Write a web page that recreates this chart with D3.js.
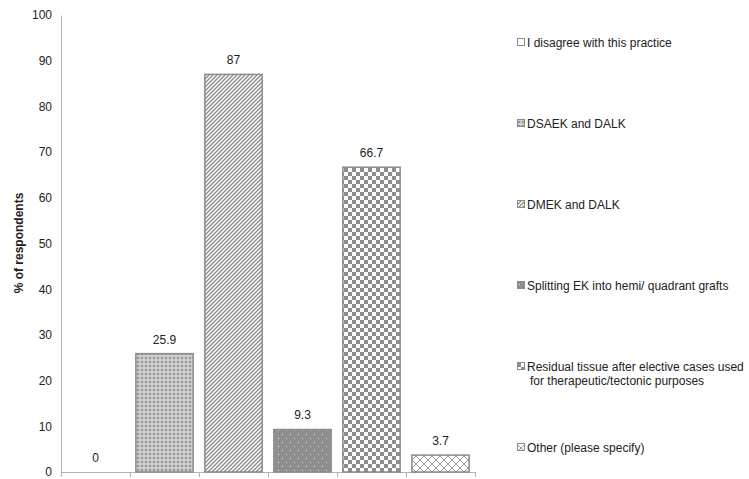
<!DOCTYPE html>
<html>
<head>
<meta charset="utf-8">
<script src="https://cdn.jsdelivr.net/npm/d3@7"></script>
<style>
body{margin:0;background:#fff}
text{font-family:Arial,"Liberation Sans",sans-serif}
</style>
</head>
<body>
<div id="canvas"></div>
<script>
"use strict"

let categories=["I disagree with this practice","DSAEK and DALK","DMEK and DALK","Splitting EK into hemi/ quadrant grafts","Residual tissue after elective cases used for therapeutic/tectonic purposes","Other (please specify)"]
let legendLines=[["I disagree with this practice"],["DSAEK and DALK"],["DMEK and DALK"],["Splitting EK into hemi/ quadrant grafts"],["Residual tissue after elective cases used","for therapeutic/tectonic purposes"],["Other (please specify)"]]
let values=[0,25.9,87,9.3,66.7,3.7]
let valueLabels=["0","25.9","87","9.3","66.7","3.7"]
let yTicks=[0,10,20,30,40,50,60,70,80,90,100]
let patternIds=["pWhite","pSmallDiamond","pStripes","pDots","pChecker","pBigDiamond"]

let svgWidth=749
let svgHeight=479
let fontFam="Arial, Liberation Sans, sans-serif"

let drawing=d3.select("#canvas")
    .append("svg")
    .attr("width",svgWidth)
    .attr("height",svgHeight)

let defs=drawing.append("defs")

// patterns
let pWhite=defs.append("pattern").attr("id","pWhite").attr("patternUnits","userSpaceOnUse").attr("width",4).attr("height",4)
pWhite.append("rect").attr("width",4).attr("height",4).attr("fill","white")

let pSmall=defs.append("pattern").attr("id","pSmallDiamond").attr("patternUnits","userSpaceOnUse").attr("width",4).attr("height",4)
pSmall.append("rect").attr("width",4).attr("height",4).attr("fill","#c8c8c8")
pSmall.append("circle").attr("cx",2).attr("cy",2).attr("r",1.1).attr("fill","#8c8c8c")
pSmall.append("circle").attr("cx",0).attr("cy",0).attr("r",0.7).attr("fill","#eeeeee")
pSmall.append("circle").attr("cx",4).attr("cy",4).attr("r",0.7).attr("fill","#eeeeee")

let pStripes=defs.append("pattern").attr("id","pStripes").attr("patternUnits","userSpaceOnUse").attr("width",4).attr("height",4)
pStripes.append("rect").attr("width",4).attr("height",4).attr("fill","white")
pStripes.append("path").attr("d","M-1,1 L1,-1 M0,4 L4,0 M3,5 L5,3").attr("stroke","#8a8a8a").attr("stroke-width",1.3)

let pDots=defs.append("pattern").attr("id","pDots").attr("patternUnits","userSpaceOnUse").attr("width",8).attr("height",8)
pDots.append("rect").attr("width",8).attr("height",8).attr("fill","#8f8f8f")
pDots.append("rect").attr("x",2).attr("y",2).attr("width",1).attr("height",1).attr("fill","#e6e6e6")
pDots.append("rect").attr("x",6).attr("y",6).attr("width",1).attr("height",1).attr("fill","#e6e6e6")

let pChecker=defs.append("pattern").attr("id","pChecker").attr("patternUnits","userSpaceOnUse").attr("width",8).attr("height",8)
pChecker.append("rect").attr("width",8).attr("height",8).attr("fill","white")
pChecker.append("rect").attr("width",4).attr("height",4).attr("fill","#8c8c8c")
pChecker.append("rect").attr("x",4).attr("y",4).attr("width",4).attr("height",4).attr("fill","#8c8c8c")

let pBig=defs.append("pattern").attr("id","pBigDiamond").attr("patternUnits","userSpaceOnUse").attr("width",8).attr("height",8)
pBig.append("rect").attr("width",8).attr("height",8).attr("fill","white")
pBig.append("path").attr("d","M0,0 L8,8 M8,0 L0,8").attr("stroke","#999").attr("stroke-width",1)

let marginLeft=61
let plotRight=475
let yTop=15
let yBottom=472

let x=d3.scaleBand().domain(categories).range([marginLeft,plotRight]).paddingInner(0.17).paddingOuter(0.085)
let y=d3.scaleLinear().domain([0,100]).range([yBottom,yTop])

// y axis
let yAxis=drawing.append("g")
    .attr("transform",`translate(${marginLeft},0)`)
    .call(d3.axisLeft(y).tickValues(yTicks).tickSize(0).tickPadding(9))
yAxis.attr("font-family",fontFam)
yAxis.select(".domain").attr("stroke","#b3b3b3").attr("stroke-width",1)
yAxis.selectAll("text").attr("font-size",12).attr("fill","#222")

// x baseline with ticks
let xTickScale=d3.scaleLinear().domain([0,categories.length]).range([marginLeft,plotRight])
let xAxis=drawing.append("g")
    .attr("transform",`translate(0,${yBottom})`)
    .call(d3.axisBottom(xTickScale).tickValues(d3.range(categories.length+1)).tickSize(5).tickSizeOuter(0).tickFormat(""))
xAxis.select(".domain").attr("stroke","#b3b3b3")
xAxis.selectAll(".tick line").attr("stroke","#b3b3b3")

// bars
drawing.append("g").selectAll("rect")
    .data(values)
    .join("rect")
    .attr("x",(d,i)=>x(categories[i]))
    .attr("y",d=>y(d))
    .attr("width",x.bandwidth())
    .attr("height",d=>yBottom-y(d))
    .attr("fill",(d,i)=>`url(#${patternIds[i]})`)
    .attr("stroke",d=>d>0?"#8a8a8a":"none")
    .attr("stroke-width",1.5)

// value labels
drawing.append("g").selectAll("text")
    .data(values)
    .join("text")
    .attr("x",(d,i)=>x(categories[i])+x.bandwidth()/2)
    .attr("y",d=>y(d)-10)
    .attr("text-anchor","middle")
    .attr("font-size",12)
    .attr("fill","#222")
    .text((d,i)=>valueLabels[i])

// y axis title
drawing.append("text")
    .attr("transform","translate(23,243) rotate(-90)")
    .attr("text-anchor","middle")
    .attr("font-size",12)
    .attr("font-weight","bold")
    .attr("fill","#222")
    .text("% of respondents")

// legend
let legendY=d3.scalePoint().domain(categories).range([47,452])
let legend=drawing.append("g").selectAll("g")
    .data(categories)
    .join("g")
    .attr("transform",d=>`translate(517,${legendY(d)})`)

legend.append("rect")
    .attr("x",0.5)
    .attr("y",-8.5)
    .attr("width",7)
    .attr("height",7)
    .attr("fill",(d,i)=>`url(#${patternIds[i]})`)
    .attr("stroke","#8a8a8a")
    .attr("stroke-width",1)

legend.append("text")
    .attr("x",10)
    .attr("y",0)
    .attr("font-size",12)
    .attr("fill","#222")
    .selectAll("tspan")
    .data((d,i)=>legendLines[i])
    .join("tspan")
    .attr("x",(d,j)=>j===0?10:13)
    .attr("dy",(d,j)=>j===0?0:14)
    .text(d=>d)
</script>
</body>
</html>
